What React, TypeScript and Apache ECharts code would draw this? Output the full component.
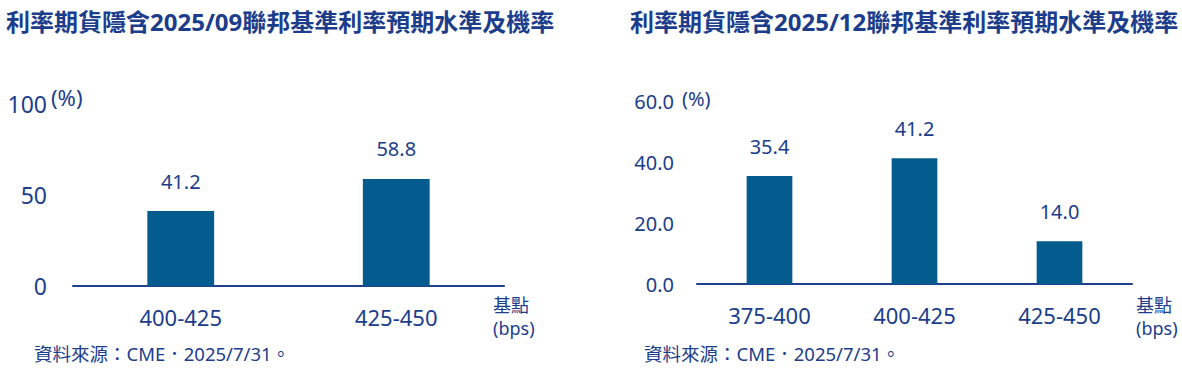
import React, { useEffect, useRef } from "react";
import * as echarts from "echarts";

const leftTitle = "利率期貨隱含2025/09聯邦基準利率預期水準及機率";
const rightTitle = "利率期貨隱含2025/12聯邦基準利率預期水準及機率";
const leftCategories = ["400-425", "425-450"];
const leftValues = [41.2, 58.8];
const rightCategories = ["375-400", "400-425", "425-450"];
const rightValues = [35.4, 41.2, 14.0];
const leftAxisMax = 100;
const leftAxisInterval = 50;
const rightAxisMax = 60;
const rightAxisInterval = 20;
const unitLabel = "(%)";
const xUnitLabel = "基點\n(bps)";
const sourceNote = "資料來源：CME．2025/7/31。";

const TEXT = "#1b3d8b";
const BAR = "#045b8d";
const AXIS = "#1f3f8f";
const FONT = "'Noto Sans', 'Noto Sans CJK TC', sans-serif";

export default function App() {
  const ref = useRef<HTMLDivElement>(null);
  useEffect(() => {
    if (!ref.current) return;
    const chart = echarts.init(ref.current, null, { renderer: "svg" });
    const label = {
      show: true,
      position: "top",
      distance: 20,
      color: TEXT,
      fontSize: 20,
      fontFamily: FONT,
      formatter: (p: any) => Number(p.value).toFixed(1),
    };
    chart.setOption({
      animation: false,
      textStyle: { fontFamily: FONT },
      title: [
        {
          text: leftTitle,
          left: 1,
          top: 4,
          textStyle: { color: TEXT, fontSize: 24, fontWeight: "bold", fontFamily: FONT },
        },
        {
          text: rightTitle,
          left: 625,
          top: 4,
          textStyle: { color: TEXT, fontSize: 24, fontWeight: "bold", fontFamily: FONT },
        },
      ],
      grid: [
        { left: 73, top: 104, width: 431, height: 182 },
        { left: 697, top: 101, width: 435, height: 183 },
      ],
      xAxis: [
        {
          type: "category",
          gridIndex: 0,
          data: leftCategories,
          axisTick: { show: false },
          axisLine: { lineStyle: { color: AXIS, width: 2 } },
          axisLabel: { color: TEXT, fontSize: 22, margin: 20, fontFamily: FONT },
        },
        {
          type: "category",
          gridIndex: 1,
          data: rightCategories,
          axisTick: { show: false },
          axisLine: { lineStyle: { color: AXIS, width: 2 } },
          axisLabel: { color: TEXT, fontSize: 22, margin: 20, fontFamily: FONT },
        },
      ],
      yAxis: [
        {
          type: "value",
          gridIndex: 0,
          min: 0,
          max: leftAxisMax,
          interval: leftAxisInterval,
          splitLine: { show: false },
          axisLine: { show: false },
          axisTick: { show: false },
          axisLabel: { color: TEXT, fontSize: 23, margin: 26, fontFamily: FONT },
        },
        {
          type: "value",
          gridIndex: 1,
          min: 0,
          max: rightAxisMax,
          interval: rightAxisInterval,
          splitLine: { show: false },
          axisLine: { show: false },
          axisTick: { show: false },
          axisLabel: {
            color: TEXT,
            fontSize: 20,
            margin: 23,
            fontFamily: FONT,
            formatter: (v: number) => v.toFixed(1),
          },
        },
      ],
      series: [
        {
          type: "bar",
          xAxisIndex: 0,
          yAxisIndex: 0,
          data: leftValues,
          barWidth: "31%",
          itemStyle: { color: BAR },
          label,
        },
        {
          type: "bar",
          xAxisIndex: 1,
          yAxisIndex: 1,
          data: rightValues,
          barWidth: "31.5%",
          itemStyle: { color: BAR },
          label,
        },
      ],
      graphic: [
        {
          type: "text",
          left: 51,
          top: 86,
          style: { text: unitLabel, fill: TEXT, font: `22px ${FONT}` },
        },
        {
          type: "text",
          left: 682,
          top: 88,
          style: { text: unitLabel, fill: TEXT, font: `20px ${FONT}` },
        },
        {
          type: "text",
          left: 493,
          top: 293,
          style: { text: xUnitLabel, fill: TEXT, font: `18px ${FONT}`, lineHeight: 23 },
        },
        {
          type: "text",
          left: 1136,
          top: 293,
          style: { text: xUnitLabel, fill: TEXT, font: `18px ${FONT}`, lineHeight: 23 },
        },
        {
          type: "text",
          left: 34,
          top: 344,
          style: { text: sourceNote, fill: TEXT, font: `18.5px ${FONT}` },
        },
        {
          type: "text",
          left: 644,
          top: 344,
          style: { text: sourceNote, fill: TEXT, font: `18.5px ${FONT}` },
        },
      ],
    });
    return () => chart.dispose();
  }, []);
  return (
    <div
      ref={ref}
      style={{ position: "absolute", left: 0, top: 0, width: 1182, height: 376 }}
    />
  );
}
